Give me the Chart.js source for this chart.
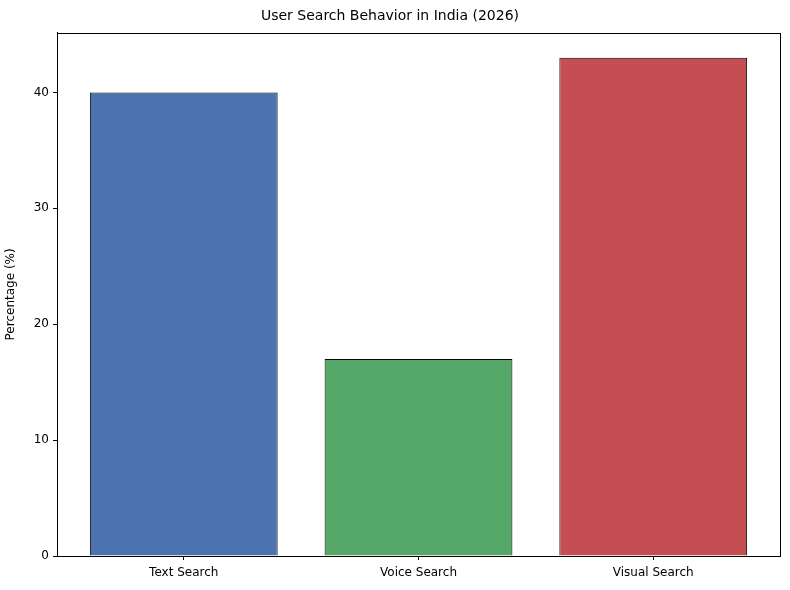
<!DOCTYPE html>
<html><head><meta charset="utf-8">
<script src="https://cdn.jsdelivr.net/npm/chart.js@4"></script>
<style>body{margin:0;background:#fff}#w{width:790px;height:590px}</style>
</head><body><div id="w"><canvas id="c"></canvas></div>
<script>
const categories = ["Text Search", "Voice Search", "Visual Search"];
const values = [40, 17, 43];
const colors = ["#4c72b0", "#55a868", "#c44e52"];
const yTicks = [0, 10, 20, 30, 40];

const frame = {id:'frame', afterDraw(ch){const a=ch.chartArea,c=ch.ctx;c.save();c.strokeStyle='#000';c.lineWidth=1;c.strokeRect(Math.round(a.left)+0.5,Math.round(a.top)+0.5,Math.round(a.right-a.left),Math.round(a.bottom-a.top));c.restore();}};
const F = 'DejaVu Sans';
new Chart(document.getElementById('c'), {
  type:'bar',
  data:{datasets:[{data:values.map((v,i)=>({x:i,y:v})),backgroundColor:colors,borderColor:'#000000',borderWidth:1,barPercentage:0.8,categoryPercentage:1}]},
  options:{
    responsive:true,maintainAspectRatio:false,animation:false,
    layout:{padding:{right:10,left:0}},
    plugins:{legend:{display:false},tooltip:{enabled:false},
      title:{display:true,text:'User Search Behavior in India (2026)',color:'#000',font:{family:F,size:14,weight:'normal'},padding:{top:8,bottom:8}}},
    scales:{
      x:{type:'linear',min:-0.54,max:2.54,offset:false,
        afterBuildTicks:s=>{s.ticks=categories.map((_,i)=>({value:i}));},
        afterFit:s=>{s.height=34;},
        ticks:{callback:v=>categories[v],color:'#000',font:{family:F,size:12},maxRotation:0,padding:6},
        grid:{offset:false,drawOnChartArea:false,tickLength:4,color:'#000'},border:{color:'#000'}},
      y:{min:0,max:45.15,
        afterBuildTicks:s=>{s.ticks=yTicks.map(v=>({value:v}));},
        afterFit:s=>{s.width=57;},
        ticks:{color:'#000',font:{family:F,size:12},padding:4},
        title:{display:true,text:'Percentage (%)',color:'#000',font:{family:F,size:12},padding:{top:4,bottom:6}},
        grid:{drawOnChartArea:false,tickLength:4,color:'#000'},border:{color:'#000'}}
    }
  },
  plugins:[frame]
});
</script></body></html>
